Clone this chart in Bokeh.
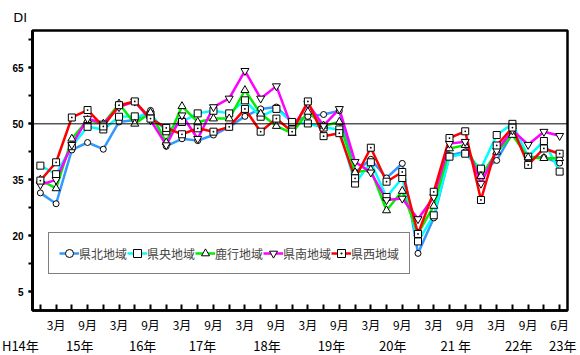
from bokeh.plotting import figure
from bokeh.layouts import column
from bokeh.models import Range1d, FixedTicker, Span, Legend, LegendItem
from bokeh.core.properties import value
from bokeh.embed import file_html
from bokeh.resources import INLINE

# survey periods (quarterly, H23.3 missing)
periods = ["H14.12", "H15.3", "H15.6", "H15.9", "H15.12", "H16.3", "H16.6", "H16.9", "H16.12",
           "H17.3", "H17.6", "H17.9", "H17.12", "H18.3", "H18.6", "H18.9", "H18.12",
           "H19.3", "H19.6", "H19.9", "H19.12", "H20.3", "H20.6", "H20.9", "H20.12",
           "H21.3", "H21.6", "H21.9", "H21.12", "H22.3", "H22.6", "H22.9", "H22.12", "H23.6"]

month_labels = ["", "3月", "", "9月", "", "3月", "", "9月", "", "3月", "", "9月", "", "3月", "", "9月", "",
                "3月", "", "9月", "", "3月", "", "9月", "", "3月", "", "9月", "", "3月", "", "9月", "", "6月"]

year_labels = ["H14年", "15年", "16年", "17年", "18年", "19年", "20年", "21 年", "22年", "23年"]
year_label_pos = [-1.27, 2.5, 6.5, 10.3, 14.4, 18.5, 22.4, 26.4, 30.4, 33.2]

y_title = "DI"
y_title_pos = -1.72

kenhoku = [31.5, 28.6, 43.0, 45.0, 43.2, 50.5, 51.0, 53.6, 44.0, 46.0, 45.5, 47.0, 49.2, 52.0, 54.0, 54.5, 50.5,
           52.0, 52.5, 53.5, 37.0, 40.5, 35.5, 39.4, 15.3, 24.8, 41.5, 42.5, 37.0, 40.2, 47.5, 41.2, 41.0, 39.5]
kenou = [38.8, 36.5, 44.0, 49.2, 48.5, 51.9, 52.0, 52.5, 48.0, 50.5, 52.8, 53.5, 52.8, 56.3, 51.9, 54.0, 50.5,
         50.1, 49.0, 48.5, 34.0, 39.7, 30.4, 35.5, 18.5, 25.5, 41.2, 42.0, 38.0, 47.0, 50.0, 41.2, 45.4, 37.2]
rokko = [35.0, 32.7, 46.0, 51.0, 50.0, 55.4, 50.0, 53.0, 45.0, 54.7, 50.5, 51.4, 51.4, 59.0, 52.7, 49.4, 47.5,
         53.2, 49.5, 50.5, 37.0, 37.7, 26.8, 32.0, 20.6, 28.0, 43.4, 44.3, 36.0, 42.5, 47.0, 41.0, 40.8, 40.8]
kennan = [33.7, 35.0, 44.4, 51.4, 50.1, 54.5, 56.0, 51.0, 44.3, 52.3, 46.0, 54.5, 56.8, 64.2, 56.8, 60.1, 48.8,
          55.4, 49.5, 54.0, 39.8, 37.0, 29.6, 30.0, 24.5, 30.4, 44.7, 45.2, 34.0, 42.8, 48.3, 44.4, 47.9, 46.8]
kensei = [34.8, 39.7, 51.7, 53.7, 49.3, 55.0, 56.0, 51.4, 48.9, 47.2, 48.8, 47.9, 49.2, 54.0, 47.9, 51.4, 47.9,
          56.0, 46.7, 47.5, 35.4, 43.6, 34.5, 37.1, 20.5, 31.8, 46.2, 48.0, 29.6, 44.2, 49.0, 39.0, 43.4, 42.0]

series_names = ["県北地域", "県央地域", "鹿行地域", "県南地域", "県西地域"]
series_values = [kenhoku, kenou, rokko, kennan, kensei]
series_colors = ["#3399ff", "#00ffff", "#00ee00", "#ff00ff", "#ff0000"]
series_markers = ["circle", "square", "triangle", "inverted_triangle", "square_dot"]
marker_sizes = [6, 7, 8, 8, 7]

y_major = [5, 20, 35, 50, 65]
y_minor = [12.5, 27.5, 42.5, 57.5, 72.5]

n = len(periods)
x = list(range(n))

W = 580
B_LEFT, B_RIGHT, B_TOP, B_BOTTOM = 32, 13, 2, 24
TOP_H = 28
MAIN_H = 307
YEAR_H = 20

p = figure(width=W, height=MAIN_H, x_range=Range1d(-0.5, n - 0.5), y_range=Range1d(0, 75),
           output_backend="svg", toolbar_location=None,
           min_border_left=B_LEFT, min_border_right=B_RIGHT, min_border_top=B_TOP, min_border_bottom=B_BOTTOM)
p.frame_align = False
p.grid.visible = False
p.outline_line_color = "black"
p.outline_line_width = 2.5
p.background_fill_color = "white"
p.border_fill_color = "white"

# y axis
yax = p.yaxis[0]
yax.ticker = FixedTicker(ticks=y_major, minor_ticks=sorted(y_major + y_minor))
yax.axis_line_width = 3
yax.major_tick_in = 0
yax.major_tick_out = 4
yax.minor_tick_in = 0
yax.minor_tick_out = 4
yax.major_tick_line_width = 2
yax.minor_tick_line_width = 2
yax.major_label_standoff = 5
yax.major_label_text_font = "Liberation Sans"
yax.major_label_text_font_style = "bold"
yax.major_label_text_font_size = "10px"
yax.major_label_text_color = "black"

# x axis
xax = p.xaxis[0]
xax.ticker = FixedTicker(ticks=x)
xax.major_label_overrides = {i: lbl for i, lbl in zip(x, month_labels)}
xax.axis_line_width = 2.5
xax.major_tick_in = 6
xax.major_tick_out = 0
xax.major_tick_line_width = 2
xax.minor_tick_line_color = None
xax.major_label_standoff = 5
xax.major_label_text_font = "Noto Sans CJK JP"
xax.major_label_text_font_size = "12px"
xax.major_label_text_color = "black"

p.add_layout(Span(location=50, dimension="width", line_color="black", line_width=1))

line_rs = []
for vals, col in zip(series_values, series_colors):
    line_rs.append(p.line(x, vals, line_color=col, line_width=2.5))

mark_rs = []
for vals, mk, sz in zip(series_values, series_markers, marker_sizes):
    mark_rs.append(p.scatter(x, vals, marker=mk, size=sz, fill_color="white",
                             line_color="black", line_width=1))

items = [LegendItem(label=nm, renderers=[lr, mr]) for nm, lr, mr in zip(series_names, line_rs, mark_rs)]
legend = Legend(items=items, location=(16, 36), orientation="horizontal",
                glyph_width=20, glyph_height=20, label_standoff=0, spacing=0, padding=10,
                label_text_font="Noto Sans CJK JP", label_text_font_size="12px",
                border_line_color="black", border_line_width=1.5,
                background_fill_color="white", background_fill_alpha=1.0)
p.add_layout(legend)

# strips above and below that share the same index scale across the full width
unit = (W - B_LEFT - B_RIGHT) / n
full_x = (-0.5 - B_LEFT / unit, n - 0.5 + B_RIGHT / unit)


def strip(h):
    s = figure(width=W, height=h, x_range=Range1d(*full_x), y_range=Range1d(0, 1),
               output_backend="svg", toolbar_location=None,
               min_border_left=0, min_border_right=0, min_border_top=0, min_border_bottom=0)
    s.frame_align = False
    s.axis.visible = False
    s.grid.visible = False
    s.outline_line_color = None
    s.background_fill_color = "white"
    s.border_fill_color = "white"
    return s


top = strip(TOP_H)
top.text(x=[y_title_pos], y=[0.39], text=[y_title], text_align="left", text_baseline="alphabetic",
         text_font=value("DejaVu Sans"), text_font_size="13px", text_color="black")

yr = strip(YEAR_H)
yr.text(x=year_label_pos, y=[0.5] * len(year_labels), text=year_labels,
        text_align="center", text_baseline="middle",
        text_font=value("Noto Sans CJK JP"), text_font_size="13px", text_color="black")

layout = column(top, p, yr, spacing=0)
open("out.html", "w").write(file_html(layout, INLINE))
